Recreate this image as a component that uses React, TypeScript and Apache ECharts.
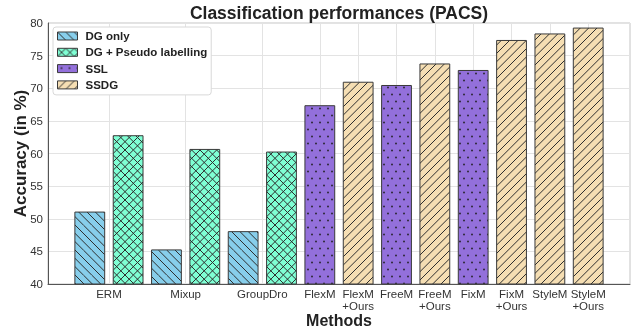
import React, { useEffect, useRef } from "react";
import * as echarts from "echarts";

const FONT = "'Liberation Sans', Arial, sans-serif";

const seriesNames = ["DG only", "DG + Pseudo labelling", "SSL", "SSDG"];
const seriesColors = ["#87CEEB", "#7FFFD4", "#9370DB", "#F5DEB3"];
const seriesHatch = ["\\", "x", ".", "/"];

// one entry per bar, left to right
const barGroup = [0, 1, 0, 1, 0, 1, 2, 3, 2, 3, 2, 3, 3, 3];
const barValues = [51.1, 62.8, 45.3, 60.7, 48.1, 60.3, 67.4, 71.0, 70.5, 73.8, 72.8, 77.4, 78.4, 79.3];

// x tick labels and the bars each label sits under
const tickLabels = [
  "ERM",
  "Mixup",
  "GroupDro",
  "FlexM",
  "FlexM\n+Ours",
  "FreeM",
  "FreeM\n+Ours",
  "FixM",
  "FixM\n+Ours",
  "StyleM",
  "StyleM\n+Ours",
];
const tickBars = [[0, 1], [2, 3], [4, 5], [6], [7], [8], [9], [10], [11], [12], [13]];

const yTicks = { min: 40, max: 80, interval: 5 };

function makePattern(bg: string, hatch: string) {
  const lineHatch = hatch !== ".";
  const W = lineHatch ? 25 : 16;
  const H = lineHatch ? 25 : 14;
  const c = document.createElement("canvas");
  c.width = W;
  c.height = H;
  const ctx = c.getContext("2d")!;
  ctx.fillStyle = bg;
  ctx.fillRect(0, 0, W, H);
  ctx.strokeStyle = "#2e2e2e";
  ctx.fillStyle = "#1e1e1e";
  ctx.lineWidth = 1;
  const p = W / 3;
  if (hatch === "/" || hatch === "x") {
    for (let k = -2; k <= 8; k++) {
      const cc = k * p;
      ctx.beginPath();
      ctx.moveTo(cc, 0);
      ctx.lineTo(cc - W, H);
      ctx.stroke();
    }
  }
  if (hatch === "\\" || hatch === "x") {
    for (let k = -5; k <= 5; k++) {
      const cc = k * p;
      ctx.beginPath();
      ctx.moveTo(cc, 0);
      ctx.lineTo(cc + W, H);
      ctx.stroke();
    }
  }
  if (hatch === ".") {
    const pts = [
      [4, 3.5],
      [12, 3.5],
      [0, 10.5],
      [8, 10.5],
      [16, 10.5],
    ];
    for (const [x, y] of pts) {
      ctx.fillRect(x - 0.8, y - 0.8, 1.6, 1.6);
    }
  }
  return { image: c, repeat: "repeat", imageWidth: W, imageHeight: H } as any;
}

export default function App() {
  const ref = useRef<HTMLDivElement>(null);
  useEffect(() => {
    if (!ref.current) return;
    const chart = echarts.init(ref.current, null, { renderer: "svg" });

    const tickPos = tickBars.map((b) => b.reduce((a, v) => a + v, 0) / b.length);
    const labelFor = (v: number) => {
      const i = tickPos.findIndex((p) => Math.abs(p - v) < 1e-6);
      return i >= 0 ? tickLabels[i] : "";
    };

    const series = seriesNames.map((name, g) => ({
      name,
      type: "bar",
      barWidth: 30.8,
      barGap: "-100%",
      data: barValues
        .map((v, i) => (barGroup[i] === g ? [i, v] : null))
        .filter((d) => d !== null),
      itemStyle: {
        color: makePattern(seriesColors[g], seriesHatch[g]),
        borderColor: "#3a3a3a",
        borderWidth: 1,
      },
    }));

    chart.setOption({
      animation: false,
      textStyle: { fontFamily: FONT },
      grid: {
        left: 48,
        right: 3,
        top: 23,
        bottom: 43,
        show: true,
        borderColor: "#c4c4c4",
        borderWidth: 1,
        outerBoundsMode: "none",
      },
      graphic: [
        {
          type: "text",
          x: 339,
          y: 13,
          style: {
            text: "Classification performances (PACS)",
            fontFamily: FONT,
            fontSize: 17.5,
            fontWeight: "bold",
            fill: "#222",
            align: "center",
            verticalAlign: "middle",
          },
        },
      ],
      legend: {
        orient: "vertical",
        left: 53,
        top: 27,
        padding: [3, 4, 4, 4],
        itemGap: 4.3,
        itemWidth: 20,
        itemHeight: 8,
        icon: "rect",
        backgroundColor: "#ffffff",
        borderColor: "#d8d8d8",
        borderWidth: 1,
        borderRadius: 3,
        textStyle: {
          fontFamily: FONT,
          fontWeight: "bold",
          fontSize: 11.5,
          color: "#222",
          lineHeight: 12,
          padding: [0, 0, 0, 3],
        },
        itemStyle: { borderColor: "#3a3a3a", borderWidth: 1 },
        data: seriesNames,
      },
      xAxis: {
        type: "value",
        min: -1.09,
        max: 14.09,
        name: "Methods",
        nameLocation: "middle",
        nameGap: 28,
        nameMoveOverlap: false,
        nameTextStyle: { fontFamily: FONT, fontWeight: "bold", fontSize: 16, color: "#222" },
        axisLine: { show: true, onZero: false, lineStyle: { color: "#555", width: 1 } },
        axisTick: { show: false, customValues: tickPos },
        axisLabel: {
          customValues: tickPos,
          formatter: (v: number) => labelFor(v),
          color: "#333",
          fontSize: 11.5,
          lineHeight: 12.2,
          margin: 4,
          fontFamily: FONT,
        },
        splitLine: { show: true, lineStyle: { color: "#e3e3e3", width: 1 } },
      },
      yAxis: {
        type: "value",
        min: yTicks.min,
        max: yTicks.max,
        interval: yTicks.interval,
        name: "Accuracy (in %)",
        nameLocation: "middle",
        nameGap: 19,
        nameMoveOverlap: false,
        nameRotate: 90,
        nameTextStyle: { fontFamily: FONT, fontWeight: "bold", fontSize: 17, color: "#222" },
        axisLine: { show: true, onZero: false, lineStyle: { color: "#555", width: 1 } },
        axisTick: { show: false },
        axisLabel: { color: "#333", fontSize: 11.5, margin: 5, fontFamily: FONT },
        splitLine: { show: true, lineStyle: { color: "#e3e3e3", width: 1 } },
      },
      series,
    });
    return () => chart.dispose();
  }, []);
  return (
    <div
      ref={ref}
      style={{ position: "fixed", left: 0, top: 0, width: 633, height: 327 }}
    />
  );
}
